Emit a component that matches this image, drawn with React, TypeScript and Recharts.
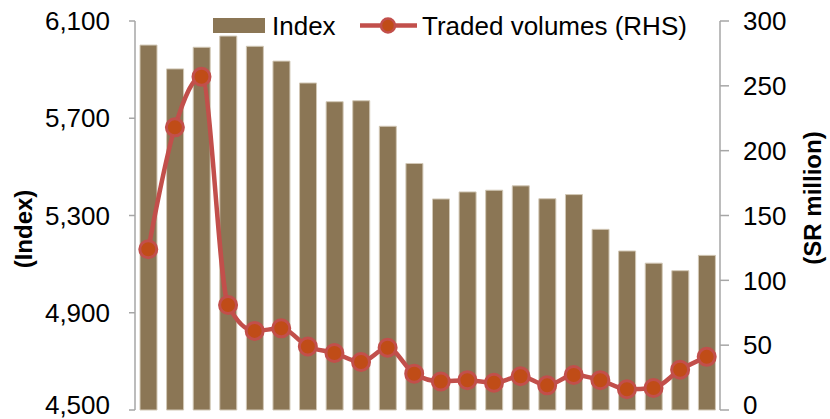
import React from 'react';
import { ComposedChart, Bar, Line, XAxis, YAxis } from 'recharts';

const periods = ['P1','P2','P3','P4','P5','P6','P7','P8','P9','P10','P11','P12','P13','P14','P15','P16','P17','P18','P19','P20','P21','P22'];
const indexValues = [6001,5903,5992,6038,5996,5935,5845,5768,5772,5667,5514,5368,5397,5404,5422,5369,5386,5243,5154,5104,5073,5136];
const volumes = [124,218,257,81,61,63,49,44,37,48,28,22,23,21,26,19,27,23,16,17,31,41];
const leftTicks = [4500,4900,5300,5700,6100];
const rightTicks = [0,50,100,150,200,250,300];
const seriesNames = ['Index', 'Traded volumes (RHS)'];

const data = periods.map((p, i) => ({ period: p, index: indexValues[i], volume: volumes[i] }));

const FONT = '"Liberation Sans", Arial, sans-serif';
const BAR = '#8B7655';
const LINE = '#C24F4B';
const DOT = '#C04C17';
const AXIS = '#A6A6A6';

const fmt = (v: number) => v.toLocaleString('en-US');

const LegendOverlay = () => (
  <svg width={520} height={40} style={{ position: 'absolute', left: 210, top: 5, display: 'block', pointerEvents: 'none' }}>
    <rect x={3} y={13} width={52} height={15} fill={BAR} />
    <text x={62} y={30} fontSize={26} fontFamily={FONT} fill="#000">{seriesNames[0]}</text>
    <line x1={150} x2={207} y1={20.5} y2={20.5} stroke={LINE} strokeWidth={4.5} />
    <circle cx={178} cy={20.5} r={7} fill={DOT} stroke={LINE} strokeWidth={2.5} />
    <text x={212} y={30} fontSize={26} fontFamily={FONT} fill="#000">{seriesNames[1]}</text>
  </svg>
);

const makeTick = (anchor: 'start' | 'end', formatter: (v: number) => string) => (props: any) => {
  const { x, y, payload } = props;
  const yy = Math.min(y, 405);
  return (
    <text x={x} y={yy} dy="0.355em" textAnchor={anchor} fontSize={26} fontFamily={FONT} fill="#000">
      {formatter(payload.value)}
    </text>
  );
};

const LeftTick = makeTick('end', fmt);
const RightTick = makeTick('start', (v) => String(v));

const LeftTitle = (props: any) => {
  const vb = props.viewBox || { x: 0, y: 21 };
  const cx = 23;
  const cy = vb.y + 208;
  return (
    <text x={cx} y={cy} transform={`rotate(-90 ${cx} ${cy})`} textAnchor="middle" dominantBaseline="central"
      fontSize={24} fontWeight="bold" fontFamily={FONT} fill="#000">(Index)</text>
  );
};

const RightTitle = (props: any) => {
  const vb = props.viewBox || { x: 720, y: 21 };
  const cx = vb.x + 92;
  const cy = vb.y + 177;
  return (
    <text x={cx} y={cy} transform={`rotate(-90 ${cx} ${cy})`} textAnchor="middle" dominantBaseline="central"
      fontSize={24} fontWeight="bold" fontFamily={FONT} fill="#000">(SR million)</text>
  );
};

const Dot = (props: any) => {
  const { cx, cy } = props;
  if (cx == null || cy == null) return null;
  return <circle cx={cx} cy={cy} r={8.5} fill={DOT} stroke={LINE} strokeWidth={3} />;
};

export default function App() {
  return (
    <div style={{ position: 'absolute', left: 0, top: 0, width: 830, height: 419, background: '#fff' }}>
      <ComposedChart width={830} height={419} data={data} margin={{ top: 21, right: 0, bottom: 9, left: 0 }}>
        <XAxis dataKey="period" hide />
        <YAxis yAxisId="left" orientation="left" width={135} domain={[4500, 6100]} ticks={leftTicks}
          interval={0} tick={<LeftTick />}
          axisLine={{ stroke: AXIS, strokeWidth: 1.5 }} tickLine={{ stroke: AXIS, strokeWidth: 1.5 }}
          tickSize={6} tickMargin={19} label={{ content: <LeftTitle /> }} />
        <YAxis yAxisId="right" orientation="right" width={110} domain={[0, 300]} ticks={rightTicks}
          interval={0} tick={<RightTick />}
          axisLine={{ stroke: AXIS, strokeWidth: 1.5 }} tickLine={{ stroke: AXIS, strokeWidth: 1.5 }}
          tickSize={9} tickMargin={14} label={{ content: <RightTitle /> }} />
        <Bar yAxisId="left" dataKey="index" name={seriesNames[0]} fill={BAR} stroke="#D2C8B6" strokeWidth={1}
          barSize={17} isAnimationActive={false} />
        <Line yAxisId="right" dataKey="volume" name={seriesNames[1]} type="monotone" stroke={LINE}
          strokeWidth={4.5} dot={<Dot />} activeDot={false} isAnimationActive={false} />
      </ComposedChart>
      <LegendOverlay />
    </div>
  );
}
